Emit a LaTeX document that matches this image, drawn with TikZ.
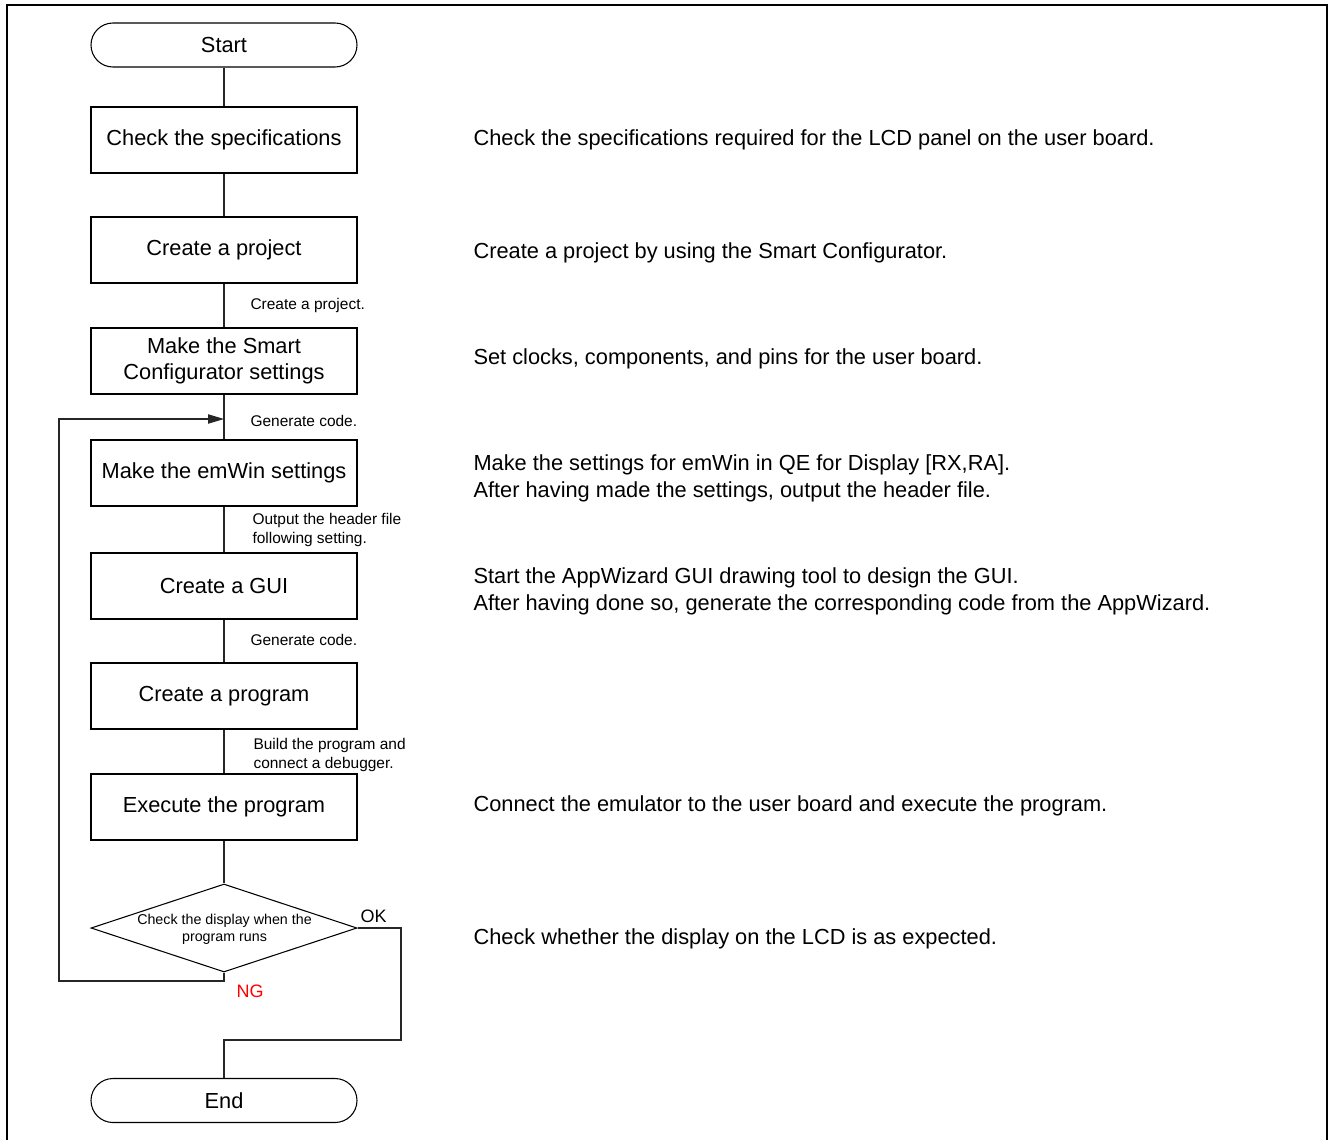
\documentclass[tikz,border=0pt]{standalone}
\usepackage{fontspec}
\setmainfont{Liberation Sans}
\usetikzlibrary{arrows.meta,shapes.geometric}
\begin{document}
\begin{tikzpicture}[x=0.75pt,y=-0.75pt,
  line width=0.8pt,
  procbox/.style={draw, rectangle, minimum width=199.5pt, minimum height=49.5pt, inner sep=0pt, align=center, font=\fontsize{16.35pt}{19.5pt}\selectfont},
  termbox/.style={draw, rectangle, rounded corners=16.5pt, minimum width=199.5pt, minimum height=33pt, inner sep=0pt, font=\fontsize{16.35pt}{19.5pt}\selectfont},
  desc/.style={anchor=west, inner sep=0pt, align=left, font=\fontsize{16.35pt}{20.25pt}\selectfont},
  small/.style={anchor=west, inner sep=0pt, align=left, font=\fontsize{11.6pt}{14.25pt}\selectfont},
  conn/.style={line width=0.8pt, draw=black!85}
]
\useasboundingbox (0,0) rectangle (1330,1139);
\draw[line width=1.6pt] (7,5) rectangle (1327,1170);

% nodes
\node[termbox] (start) at (224,45) {Start};
\node[procbox] (b1) at (224,140) {Check the specifications};
\node[procbox] (b2) at (224,250) {Create a project};
\node[procbox] (b3) at (224,361) {Make the Smart\\Configurator settings};
\node[procbox] (b4) at (224,473) {Make the emWin settings};
\node[procbox] (b5) at (224,586) {Create a GUI};
\node[procbox] (b6) at (224,696) {Create a program};
\node[procbox] (b7) at (224,807) {Execute the program};
\node[draw, diamond, minimum width=199.5pt, minimum height=66pt, inner sep=0pt] (dia) at (224,928) {};
\node[align=center, inner sep=0pt, font=\fontsize{10.7pt}{13pt}\selectfont] (diat) at (224.5,929.5) {Check the display when the\\program runs};
\node[termbox] (endn) at (224,1100.5) {End};

% coordinates
\coordinate (okc) at (401,1040);
\coordinate (ngc) at (59,981);
\coordinate (join) at (224,419);

% connectors
\draw[conn] (start) -- (b1);
\draw[conn] (b1) -- (b2);
\draw[conn] (b2) -- (b3);
\draw[conn] (b3) -- (b4);
\draw[conn] (b4) -- (b5);
\draw[conn] (b5) -- (b6);
\draw[conn] (b6) -- (b7);
\draw[conn] (b7) -- (dia.north);
\draw[conn] (dia.east) -| (okc) -| (endn.north);
\draw[conn, -{Triangle[length=12pt,width=7pt]}] (dia.south) |- (ngc) |- (join);

% connector labels
\node[small] (l1) at (250,305.5) {Create a project.};
\node[small] (l2) at (250,420.5) {Generate code.};
\node[small] (l3) at (252,529.5) {Output the header file\\following setting.};
\node[small] (l4) at (250,639.5) {Generate code.};
\node[small] (l5) at (253,754.5) {Build the program and\\connect a debugger.};
\node[anchor=west, inner sep=0pt, font=\fontsize{13.5pt}{16pt}\selectfont] (ok) at (360,916.5) {OK};
\node[anchor=west, inner sep=0pt, text=red, font=\fontsize{13.5pt}{16pt}\selectfont] (ng) at (236,991.5) {NG};

% descriptions
\node[desc] (d1) at (473,140) {Check the specifications required for the LCD panel on the user board.};
\node[desc] (d2) at (473,253) {Create a project by using the Smart Configurator.};
\node[desc] (d3) at (473,359) {Set clocks, components, and pins for the user board.};
\node[desc] (d4) at (473,478) {Make the settings for emWin in QE for Display [RX,RA].\\After having made the settings, output the header file.};
\node[desc] (d5) at (473,591) {Start the AppWizard GUI drawing tool to design the GUI.\\After having done so, generate the corresponding code from the AppWizard.};
\node[desc] (d6) at (473,806) {Connect the emulator to the user board and execute the program.};
\node[desc] (d7) at (473,939) {Check whether the display on the LCD is as expected.};
\end{tikzpicture}
\end{document}
